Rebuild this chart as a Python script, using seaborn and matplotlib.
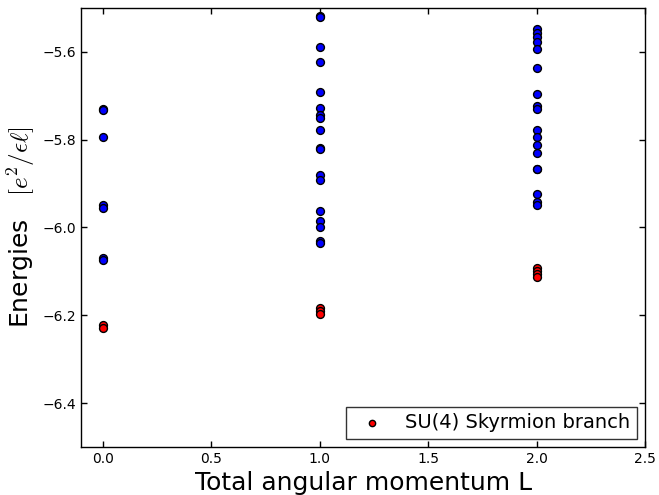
import numpy as np
import pandas as pd
import seaborn as sns
import matplotlib
matplotlib.use("Agg")
import matplotlib.pyplot as plt

# spectrum per total angular momentum L
L0_other = [-5.731, -5.733, -5.795, -5.948, -5.955, -6.069, -6.073]
L0_skyrmion = [-6.222, -6.228]
L1_other = [-5.518, -5.520, -5.589, -5.623, -5.692, -5.729, -5.745, -5.751,
            -5.777, -5.818, -5.822, -5.880, -5.893, -5.963, -5.985, -5.998,
            -6.030, -6.035]
L1_skyrmion = [-6.183, -6.190, -6.196]
L2_other = [-5.548, -5.556, -5.566, -5.578, -5.594, -5.637, -5.697, -5.724,
            -5.731, -5.777, -5.793, -5.813, -5.831, -5.866, -5.868, -5.923,
            -5.943, -5.950]
L2_skyrmion = [-6.093, -6.100, -6.107, -6.112]

other = pd.DataFrame({
    "L": [0.0] * len(L0_other) + [1.0] * len(L1_other) + [2.0] * len(L2_other),
    "E": L0_other + L1_other + L2_other,
})
sky = pd.DataFrame({
    "L": [0.0] * len(L0_skyrmion) + [1.0] * len(L1_skyrmion) + [2.0] * len(L2_skyrmion),
    "E": L0_skyrmion + L1_skyrmion + L2_skyrmion,
})

sns.set_style("ticks")
plt.rcParams["font.family"] = ["DejaVu Sans"]
plt.rcParams["mathtext.fontset"] = "cm"
plt.rcParams["xtick.direction"] = "in"
plt.rcParams["ytick.direction"] = "in"
plt.rcParams["xtick.top"] = True
plt.rcParams["ytick.right"] = True
plt.rcParams["text.color"] = "black"
plt.rcParams["axes.labelcolor"] = "black"

fig = plt.figure(figsize=(6.59, 4.95), dpi=100)
ax = fig.add_axes([0.123, 0.097, 0.856, 0.887])

sns.scatterplot(data=other, x="L", y="E", ax=ax, color="blue", edgecolor="black",
                s=32, linewidth=1.0, legend=False)
sns.scatterplot(data=sky, x="L", y="E", ax=ax, color="red", edgecolor="black",
                s=32, linewidth=1.0, label="SU(4) Skyrmion branch")

ax.set_xlim(-0.1, 2.5)
ax.set_ylim(-6.5, -5.5)
ax.set_xticks([0.0, 0.5, 1.0, 1.5, 2.0, 2.5])
ax.set_yticks([-6.4, -6.2, -6.0, -5.8, -5.6])
ax.tick_params(labelsize=10, length=4, width=1, colors="black")
for sp in ax.spines.values():
    sp.set_color("black")
    sp.set_linewidth(1.0)

ax.set_xlabel("Total angular momentum L", fontsize=18)
ax.set_ylabel(r"Energies   $[e^2/\epsilon\ell]$", fontsize=18)

leg = ax.legend(loc="lower right", fontsize=14, frameon=True, fancybox=False,
                markerscale=0.8, borderpad=0.35, handletextpad=0.7,
                borderaxespad=0.4)
leg.get_frame().set_edgecolor("black")
leg.get_frame().set_linewidth(1.0)

fig.savefig("out.png", dpi=100)
